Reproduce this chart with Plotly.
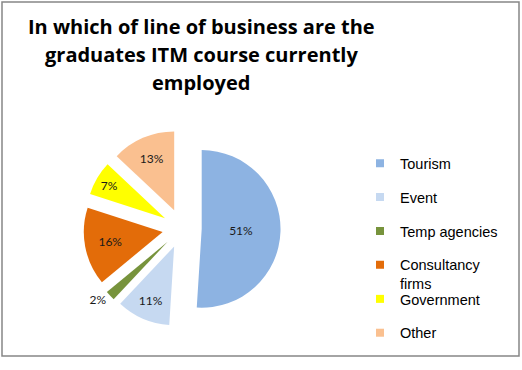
import plotly.graph_objects as go

labels = ["Tourism", "Event", "Temp agencies", "Consultancy firms", "Government", "Other"]
legend_labels = ["Tourism", "Event", "Temp agencies", "Consultancy<br>firms", "Government", "Other"]
values = [51, 11, 2, 16, 7, 13]
colors = ["#8DB3E2", "#C6D9F1", "#77933C", "#E36C09", "#FFFF00", "#FAC090"]
title_lines = ["In which of line of business are the",
               "graduates ITM course currently",
               "employed"]

W, H = 522, 370
fig = go.Figure()

fig.add_trace(go.Pie(
    labels=labels, values=values, sort=False, direction="clockwise", rotation=0,
    marker=dict(colors=colors, line=dict(width=0)),
    pull=[0.25] * len(values),
    texttemplate="%{percent:.0%}",
    textposition=["inside", "inside", "outside", "inside", "inside", "inside"],
    insidetextorientation="horizontal",
    textfont=dict(family="Lato, Liberation Sans, sans-serif", size=12, color="#1a1a1a"),
    domain=dict(x=[81 / W, 283 / W], y=[1 - 335 / H, 1 - 133 / H]),
    showlegend=False, hoverinfo="label+percent",
))

# legend entries (one per category)
for i, (lab, col) in enumerate(zip(legend_labels, colors)):
    fig.add_trace(go.Scatter(
        x=[None], y=[None], mode="markers", name=lab,
        marker=dict(symbol="square", size=8, color=col),
        legendgroup=lab, showlegend=True,
        legend="legend" if i < 4 else "legend2",
    ))

leg_common = dict(font=dict(family="Liberation Sans, Arial, sans-serif", size=14.5, color="#000"),
                  bgcolor="rgba(0,0,0,0)", tracegroupgap=12, itemwidth=30,
                  xanchor="left", yanchor="top", valign="top")

for i, t in enumerate(title_lines):
    fig.add_annotation(
        text="<b>" + t + "</b>", x=201 / W, y=1 - (27 + 29 * i) / H,
        xref="paper", yref="paper", xanchor="center", yanchor="middle",
        showarrow=False, font=dict(family="Open Sans, sans-serif", size=20, color="#000"))

fig.add_shape(type="rect", xref="paper", yref="paper",
              x0=2 / W, x1=519 / W, y0=1 - 365 / H, y1=1 - 2 / H,
              line=dict(color="#868686", width=1.5), fillcolor="rgba(0,0,0,0)")

fig.update_layout(
    width=W, height=H, margin=dict(l=0, r=0, t=0, b=0),
    paper_bgcolor="white", plot_bgcolor="white",
    xaxis=dict(visible=False), yaxis=dict(visible=False),
    legend=dict(x=360 / W, y=1 - 151 / H, **leg_common),
    legend2=dict(x=360 / W, y=1 - 290 / H, **leg_common),
)

fig.write_html("out.html")
